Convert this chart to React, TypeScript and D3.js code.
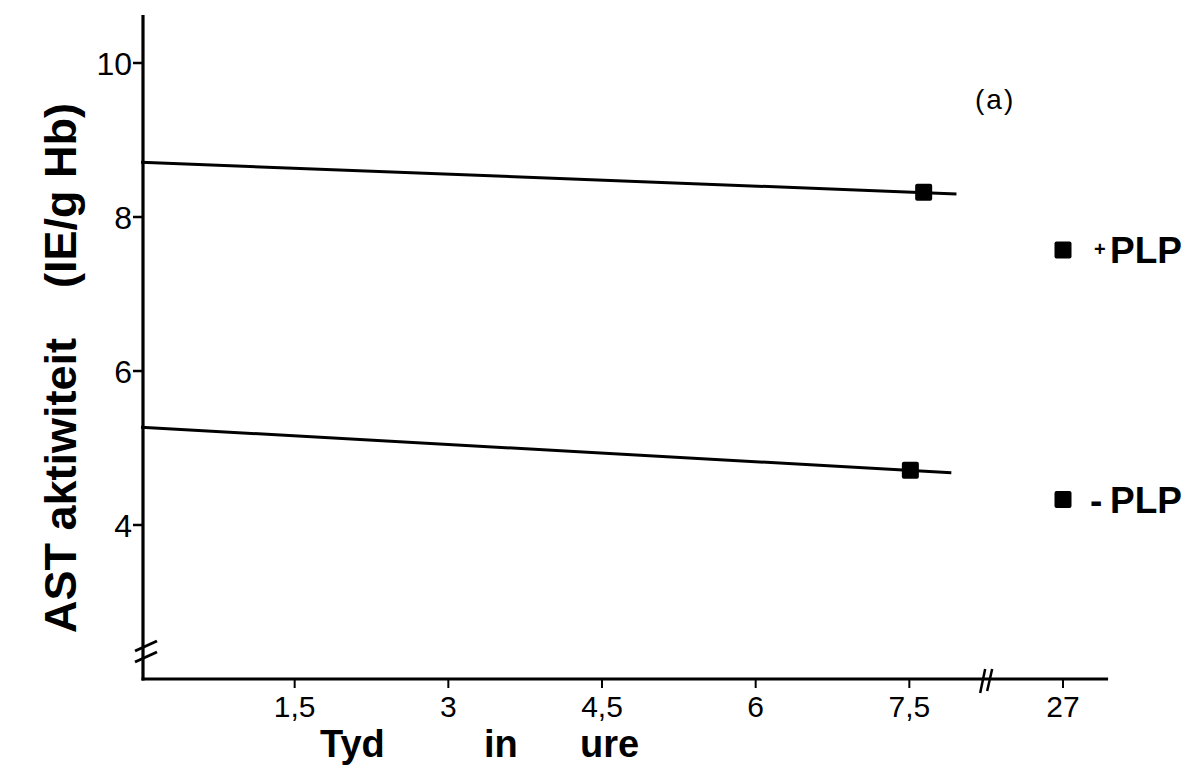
import React from "react";
import * as d3 from "d3";

const yTicks = [4, 6, 8, 10];
const xTicks = [1.5, 3, 4.5, 6, 7.5, 27];
const xTickLabels = ["1,5", "3", "4,5", "6", "7,5", "27"];

const plusLine: [number, number][] = [[0, 8.71], [7.96, 8.3]];
const minusLine: [number, number][] = [[0, 5.27], [7.91, 4.68]];
const plusPoints: [number, number][] = [[7.64, 8.32], [27, 7.57]];
const minusPoints: [number, number][] = [[7.51, 4.71], [27, 4.33]];

const W = 1188;
const H = 773;

export default function App() {
  const xs = d3.scaleLinear().domain([0, 9]).range([141, 1063]);
  const x = (v: number) => (v > 20 ? xs(9) : xs(v));
  const y = d3.scaleLinear().domain([2, 10]).range([679, 63]);
  const line = d3.line<[number, number]>().x((d) => x(d[0])).y((d) => y(d[1]));

  const axisX0 = 143;
  const axisY = 679;
  const sq = 17;
  const tickFont = "'Liberation Sans', Arial, sans-serif";
  const boldFont = "'Liberation Sans', Arial, sans-serif";

  return (
    <svg width={W} height={H} style={{ position: "absolute", left: 0, top: 0, background: "#fff" }}>
      <rect x={0} y={0} width={W} height={H} fill="#fff" />
      {/* Y axis */}
      <line x1={axisX0} y1={15} x2={axisX0} y2={axisY + 1.5} stroke="#000" strokeWidth={3.2} />
      {/* X axis */}
      <line x1={axisX0 - 1.5} y1={axisY} x2={xs(9.44)} y2={axisY} stroke="#000" strokeWidth={3.2} />
      {/* y break */}
      <line x1={135} y1={651} x2={157} y2={641} stroke="#000" strokeWidth={3} />
      <line x1={135} y1={662} x2={157} y2={652} stroke="#000" strokeWidth={3} />
      {/* x break */}
      <line x1={xs(8.25) - 6} y1={axisY + 14} x2={xs(8.25) - 1} y2={axisY - 10} stroke="#000" strokeWidth={2.5} />
      <line x1={xs(8.25) + 1} y1={axisY + 12} x2={xs(8.25) + 6} y2={axisY - 10} stroke="#000" strokeWidth={2.5} />
      {/* y ticks */}
      {yTicks.map((t) => (
        <g key={t}>
          <line x1={axisX0 - 10} x2={axisX0} y1={y(t)} y2={y(t)} stroke="#000" strokeWidth={2.5} />
          <text x={axisX0 - 11} y={y(t) + 12} textAnchor="end" fontFamily={tickFont} fontSize={32}>
            {t}
          </text>
        </g>
      ))}
      {/* x ticks */}
      {xTicks.map((t, i) => (
        <g key={t}>
          <line x1={x(t)} x2={x(t)} y1={axisY} y2={axisY + 9} stroke="#000" strokeWidth={2} />
          <text x={x(t)} y={axisY + 38} textAnchor="middle" fontFamily={tickFont} fontSize={30}>
            {xTickLabels[i]}
          </text>
        </g>
      ))}
      {/* lines */}
      <path d={line(plusLine) || ""} fill="none" stroke="#000" strokeWidth={3} />
      <path d={line(minusLine) || ""} fill="none" stroke="#000" strokeWidth={3} />
      {[...plusPoints, ...minusPoints].map((p, i) => (
        <rect key={i} x={x(p[0]) - sq / 2} y={y(p[1]) - sq / 2} width={sq} height={sq} rx={2} fill="#000" />
      ))}
      {/* series labels */}
      <text x={1094} y={y(plusPoints[1][1]) + 6} fontFamily={boldFont} fontSize={20} fontWeight="bold">+</text>
      <text x={1110} y={y(plusPoints[1][1]) + 13} fontFamily={boldFont} fontSize={37} fontWeight="bold">PLP</text>
      <text x={1090} y={y(minusPoints[1][1]) + 13} fontFamily={boldFont} fontSize={37} fontWeight="bold">-</text>
      <text x={1110} y={y(minusPoints[1][1]) + 13} fontFamily={boldFont} fontSize={37} fontWeight="bold">PLP</text>
      {/* (a) */}
      <text x={975} y={109} fontFamily={tickFont} fontSize={28} letterSpacing={2}>(a)</text>
      {/* x label */}
      <text y={757} fontFamily={boldFont} fontSize={38} fontWeight="bold">
        <tspan x={320}>Tyd</tspan>
        <tspan x={484}>in</tspan>
        <tspan x={580}>ure</tspan>
      </text>
      {/* y label */}
      <text
        transform="translate(76, 368) rotate(-90)"
        textAnchor="middle"
        fontFamily={boldFont}
        fontSize={45}
        fontWeight="bold"
        xmlSpace="preserve"
      >
        AST aktiwiteit    (IE/g Hb)
      </text>
    </svg>
  );
}
